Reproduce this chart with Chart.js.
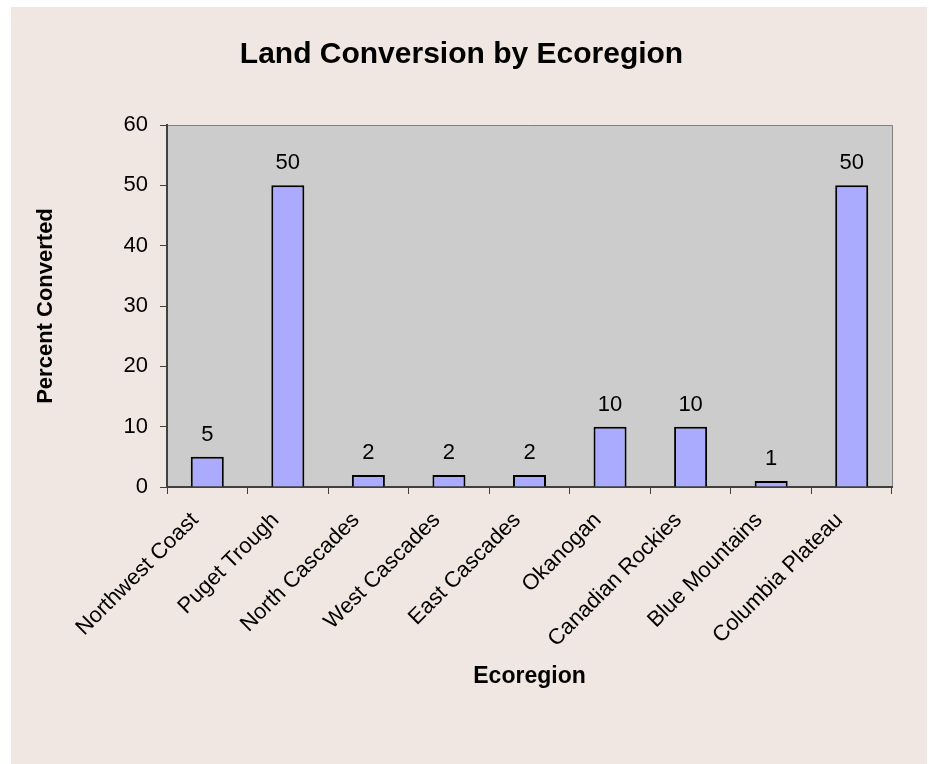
<!DOCTYPE html>
<html>
<head>
<meta charset="utf-8">
<script src="https://cdn.jsdelivr.net/npm/chart.js@4/dist/chart.umd.min.js"></script>
<style>
  html, body { margin: 0; padding: 0; background: #ffffff; }
  #wrap { width: 929px; height: 764px; position: relative; }
</style>
</head>
<body>
<div id="wrap"><canvas id="c" width="929" height="764"></canvas></div>
<script>
const categories = ["Northwest Coast", "Puget Trough", "North Cascades", "West Cascades", "East Cascades", "Okanogan", "Canadian Rockies", "Blue Mountains", "Columbia Plateau"];
const percentConverted = [5, 50, 2, 2, 2, 10, 10, 1, 50];
const yTicks = [0, 10, 20, 30, 40, 50, 60];

const FONT = "'Liberation Sans', Arial, sans-serif";

const bgPlugin = {
  id: 'bgPlugin',
  beforeDraw(chart) {
    const ctx = chart.ctx;
    const a = chart.chartArea;
    ctx.save();
    ctx.fillStyle = '#ffffff';
    ctx.fillRect(0, 0, chart.width, chart.height);
    ctx.fillStyle = '#F0E6E2';
    ctx.fillRect(11, 7, 916, 757);
    ctx.fillStyle = '#CCCCCC';
    ctx.fillRect(a.left, a.top, a.right - a.left, a.bottom - a.top);
    ctx.strokeStyle = '#808080';
    ctx.lineWidth = 1;
    ctx.beginPath();
    ctx.moveTo(a.left, a.top + 0.5);
    ctx.lineTo(a.right + 0.5, a.top + 0.5);
    ctx.lineTo(a.right + 0.5, a.bottom);
    ctx.stroke();
    ctx.restore();
  },
  afterDatasetsDraw(chart) {
    const ctx = chart.ctx;
    const meta = chart.getDatasetMeta(0);
    ctx.save();
    ctx.fillStyle = '#000000';
    ctx.font = '22px ' + FONT;
    ctx.textAlign = 'center';
    ctx.textBaseline = 'alphabetic';
    meta.data.forEach((bar, i) => {
      ctx.fillText(String(percentConverted[i]), bar.x, bar.y - 16);
    });
    ctx.restore();
  },
  afterDraw(chart) {
    // rotated category labels, positioned from the x scale
    const ctx = chart.ctx;
    const xs = chart.scales.x;
    ctx.save();
    ctx.fillStyle = '#000000';
    ctx.font = '22px ' + FONT;
    ctx.textAlign = 'right';
    ctx.textBaseline = 'alphabetic';
    categories.forEach((label, i) => {
      const x = xs.getPixelForValue(i) - 8;
      const y = xs.top + 34;
      ctx.save();
      ctx.translate(x, y);
      ctx.rotate(-Math.PI / 4);
      ctx.fillText(label, 0, 0);
      ctx.restore();
    });
    ctx.restore();
  }
};

new Chart(document.getElementById('c'), {
  type: 'bar',
  data: {
    labels: categories,
    datasets: [{
      data: percentConverted,
      backgroundColor: '#AAAAFF',
      borderColor: '#000000',
      borderWidth: 2,
      borderSkipped: 'bottom',
      barPercentage: 0.41,
      categoryPercentage: 1.0
    }]
  },
  options: {
    responsive: false,
    animation: false,
    devicePixelRatio: 1,
    layout: { padding: { left: 31, right: 37, top: 0, bottom: 72 } },
    plugins: {
      legend: { display: false },
      tooltip: { enabled: false },
      title: {
        display: true,
        text: 'Land Conversion by Ecoregion',
        color: '#000000',
        font: { family: FONT, size: 30, weight: 'bold', lineHeight: 1.2 },
        padding: { top: 37, bottom: 52 }
      }
    },
    scales: {
      x: {
        grid: { display: true, drawOnChartArea: false, offset: true, color: '#404040', tickLength: 7, lineWidth: 1 },
        border: { display: true, color: '#404040', width: 2 },
        ticks: { display: false, autoSkip: false },
        title: {
          display: true,
          text: 'Ecoregion',
          color: '#000000',
          font: { family: FONT, size: 23, weight: 'bold' },
          padding: { top: 4, bottom: 2 }
        },
        afterFit(scale) { scale.height = 205; }
      },
      y: {
        min: 0, max: 60,
        afterBuildTicks(scale) { scale.ticks = yTicks.map(v => ({ value: v })); },
        grid: { display: true, drawOnChartArea: false, color: '#404040', tickLength: 7 },
        border: { display: true, color: '#404040', width: 2 },
        ticks: {
          color: '#000000',
          font: { family: FONT, size: 22 },
          padding: 12
        },
        title: {
          display: true,
          text: 'Percent Converted',
          color: '#000000',
          font: { family: FONT, size: 22, weight: 'bold' },
          padding: { top: 2, bottom: 2 }
        },
        afterFit(scale) { scale.width = 136; }
      }
    }
  },
  plugins: [bgPlugin]
});
</script>
</body>
</html>
